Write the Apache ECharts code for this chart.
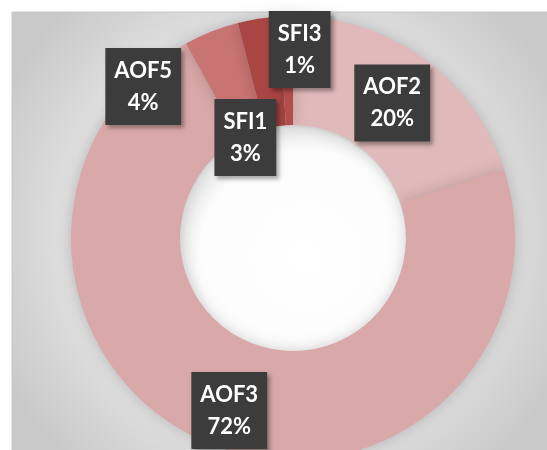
<!DOCTYPE html>
<html>
<head>
<meta charset="utf-8">
<script src="https://cdn.jsdelivr.net/npm/echarts@6/dist/echarts.min.js"></script>
<style>html,body{margin:0;padding:0;background:#fff;}#c{width:547px;height:450px;}</style>
</head>
<body>
<div id="c"></div>
<script>
const categories = ['AOF2', 'AOF3', 'AOF5', 'SFI1', 'SFI3'];
const values = [20, 72, 4, 3, 1];
const percentLabels = ['20%', '72%', '4%', '3%', '1%'];

const colors = ['#e0b9ba', '#d9a8a8', '#c87472', '#a94543', '#b14d4b'];
const labelOffsets = [[-1, 3], [-1, 14], [-87, 7], [-21, 68], [12, -18]];

const chart = echarts.init(document.getElementById('c'), null, {renderer: 'canvas'});
const cx = 293, cy = 238;
chart.setOption({
  animation: false,
  graphic: [
    {
      type: 'rect', z: -10, silent: true,
      shape: {x: 12, y: 12, width: 540, height: 445},
      style: {
        fill: {type: 'radial', x: 0.5, y: 0.5, r: 0.7,
          colorStops: [{offset: 0, color: '#ececec'}, {offset: 0.7, color: '#dedede'}, {offset: 1, color: '#c9c9c9'}]},
        stroke: '#c8c8c8', lineWidth: 1
      }
    },
    {
      type: 'circle', z: 1, silent: true,
      shape: {cx: cx, cy: cy + 2, r: 113},
      style: {
        fill: {type: 'radial', x: 0.56, y: 0.58, r: 0.56,
          colorStops: [{offset: 0, color: '#ffffff'}, {offset: 0.85, color: '#fcfcfc'}, {offset: 1, color: '#ececec'}]}
      }
    }
  ],
  series: [{
    type: 'pie',
    z: 2,
    center: [cx, cy],
    radius: [113, 222],
    startAngle: 90,
    clockwise: true,
    avoidLabelOverlap: false,
    itemStyle: {shadowBlur: 14, shadowColor: 'rgba(0,0,0,0.18)'},
    label: {
      show: true,
      position: 'inside',
      formatter: p => p.name + '\n' + percentLabels[p.dataIndex],
      color: '#ffffff',
      fontFamily: 'Lato',
      fontWeight: 'bold',
      fontSize: 22,
      lineHeight: 32,
      backgroundColor: '#3c3c3c',
      padding: [7, 9, 6, 9],
      shadowBlur: 4,
      shadowOffsetX: 3,
      shadowOffsetY: 3,
      shadowColor: 'rgba(0,0,0,0.35)'
    },
    labelLine: {show: false},
    data: categories.map((name, i) => ({
      name: name,
      value: values[i],
      itemStyle: {color: colors[i]},
      label: {offset: labelOffsets[i]}
    }))
  }]
});
</script>
</body>
</html>
